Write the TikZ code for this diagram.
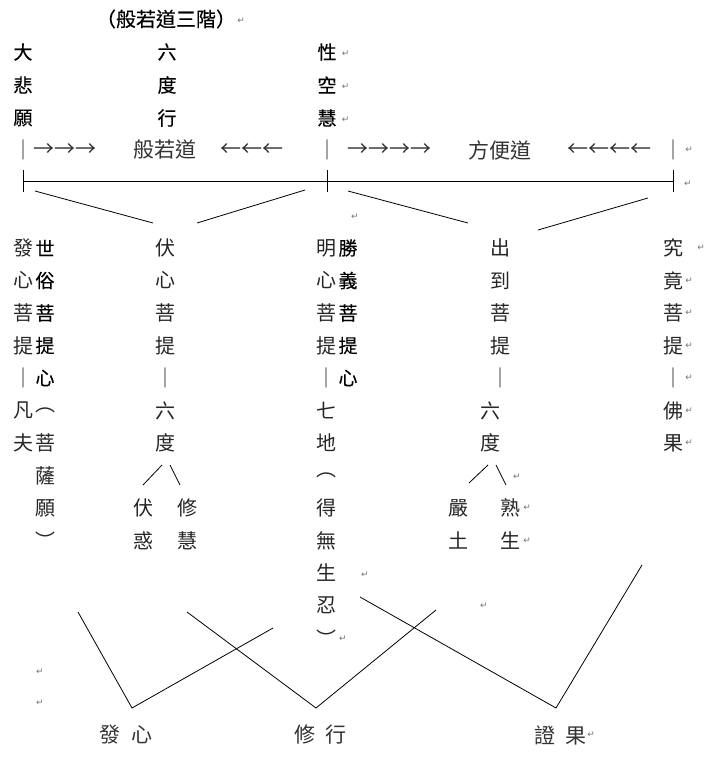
\documentclass[tikz,border=0pt]{standalone}
\usepackage{fontspec}
\usepackage{tikz}
\usetikzlibrary{positioning}
\newfontfamily\cjk{Noto Sans CJK TC}
\newfontfamily\cjkbold[FakeBold=0.25]{Noto Sans CJK TC}
\newfontfamily\symfont{DejaVu Sans}

\begin{document}
\begin{tikzpicture}[x=1pt, y=-1pt,
  zi/.style={font=\cjk\fontsize{20}{20}\selectfont, text=black!85, inner sep=0pt},
  zib/.style={font=\cjkbold\fontsize{19}{19}\selectfont, inner sep=0pt},
  dao/.style={font=\cjk\fontsize{21}{21}\selectfont, text=black!80, inner sep=0pt},
  ret/.style={font=\symfont\fontsize{9}{9}\selectfont, text=black!55, inner sep=0pt},
  ln/.style={line width=0.8pt}]
  \useasboundingbox (0,0) rectangle (712,761);

  % title and the three heads
  \node[zib, font=\cjkbold\fontsize{20}{20}\selectfont] (title) at (166,19) {（般若道三階）};
  \node[ret, right=1pt of title, yshift=-2pt] {↵};
  \foreach \c [count=\i from 0] in {大,悲,願}
    \node[zib] (dabei\i) at (23,{52+33*\i}) {\c};
  \foreach \c [count=\i from 0] in {六,度,行}
    \node[zib] (liudu\i) at (167,{52+33*\i}) {\c};
  \foreach \c [count=\i from 0] in {性,空,慧} {
    \node[zib] (xing\i) at (327,{52+33*\i}) {\c};
    \node[ret, right=5pt of xing\i, yshift=-2pt] {↵};
  }

  % the two ways
  \node[zi] (bar0) at (23,150) {｜};
  \node[dao] (jt1) at (65.5,150) {→→→};
  \node[dao] (bore) at (165,150) {般若道};
  \node[dao] (jt2) at (251.5,150) {←←←};
  \node[zi] (bar1) at (327,150) {｜};
  \node[dao] (jt3) at (389,150) {→→→→};
  \node[dao] (fangbian) at (500,150) {方便道};
  \node[dao] (jt4) at (609.5,150) {←←←←};
  \node[zi] (bar2) at (673,150) {｜};
  \node[ret, right=2pt of bar2] {↵};

  \draw[ln] (23,181) -- (673,181);
  \foreach \x in {23,327,673}
    \draw[ln] (\x,170) -- (\x,192);
  \node[ret] at (688,184) {↵};
  \draw[ln] (35,191) -- (153,223);
  \draw[ln] (197,223) -- (305,190);
  \draw[ln] (348,191) -- (468,223);
  \draw[ln] (538,230) -- (648,198);
  \node[ret] at (355,217) {↵};

  % five bodhi columns
  \foreach \c [count=\i from 0] in {發,心,菩,提,｜,凡,夫}
    \node[zi] (fa\i) at (23,{248+32.5*\i}) {\c};
  \foreach \c [count=\i from 0] in {世,俗,菩,提,心}
    \node[zib] (shi\i) at (45,{248+32.5*\i}) {\c};
  \foreach \c [count=\i from 5] in {︵,菩,薩,願,︶}
    \node[zi] (shi\i) at (45,{248+32.5*\i}) {\c};

  \foreach \c [count=\i from 0] in {伏,心,菩,提,｜,六,度}
    \node[zi] (fu\i) at (165,{248+32.5*\i}) {\c};
  \draw[ln] (143,485) -- (162,465);
  \draw[ln] (170,465) -- (180,485);
  \node[zi] (fuhuo0) at (143,508) {伏};
  \node[zi] (fuhuo1) at (143,540.5) {惑};
  \node[zi] (xiuhui0) at (187,508) {修};
  \node[zi] (xiuhui1) at (187,540.5) {慧};

  \foreach \c [count=\i from 0] in {明,心,菩,提,｜,七,地,︵,得,無,生,忍,︶}
    \node[zi] (ming\i) at (326,{248+32.5*\i}) {\c};
  \foreach \c [count=\i from 0] in {勝,義,菩,提,心}
    \node[zib] (sheng\i) at (348,{248+32.5*\i}) {\c};
  \node[ret] at (365,575) {↵};
  \node[ret] at (343,639) {↵};

  \foreach \c [count=\i from 0] in {出,到,菩,提,｜}
    \node[zi] (chu\i) at (500,{248+32.5*\i}) {\c};
  \node[zi] (chu5) at (490,410.5) {六};
  \node[zi] (chu6) at (490,443) {度};
  \draw[ln] (469,483) -- (488,465);
  \draw[ln] (496,465) -- (506,485);
  \node[ret] at (517,477) {↵};
  \node[zi] (yan0) at (458,508) {嚴};
  \node[zi] (yan1) at (458,540.5) {土};
  \node[zi] (shu0) at (510,508) {熟};
  \node[zi] (shu1) at (510,540.5) {生};
  \node[ret, right=3pt of shu0] {↵};
  \node[ret, right=3pt of shu1] {↵};

  \foreach \c [count=\i from 0] in {究,竟,菩,提,｜,佛,果}
    \node[zi] (jiu\i) at (673,{248+32.5*\i}) {\c};
  \node[ret, right=14pt of jiu0] {↵};
  \foreach \i in {1,...,6}
    \node[ret, right=2pt of jiu\i] {↵};

  % three stages
  \draw[ln] (78,612) -- (132,708) -- (273,628);
  \draw[ln] (187,612) -- (316,708) -- (436,610);
  \draw[ln] (360,597) -- (556,708) -- (642,565);
  \node[ret] at (40,672) {↵};
  \node[ret] at (40,703) {↵};
  \node[ret] at (484,606) {↵};
  \node[dao] (faxin) at (126,735) {發\hspace{11pt}心};
  \node[dao] (xiuxing) at (320.5,735) {修\hspace{10pt}行};
  \node[dao] (zhengguo) at (560,735) {證\hspace{10pt}果};
  \node[ret, right=1pt of zhengguo] {↵};
\end{tikzpicture}
\end{document}
